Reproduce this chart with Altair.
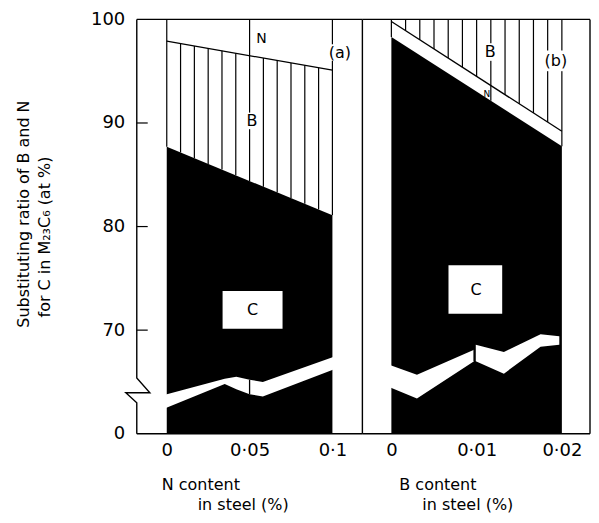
import altair as alt
import numpy as np
import pandas as pd

FONT = "DejaVu Sans"

# ---------------- panel (a): N content in steel ----------------
a_x = [0.0, 0.1]
a_c_top = [87.7, 81.1]      # C / B boundary
a_b_top = [97.9, 95.1]      # B / N boundary
a_band_l_x = [-0.005, 0.035, 0.042, 0.05]
a_band_l_hi = [63.6, 65.3, 65.5, 65.2]
a_band_l_lo = [62.2, 64.8, 64.3, 63.8]
a_band_r_x = [0.05, 0.058, 0.109]
a_band_r_hi = [65.2, 65.0, 67.9]
a_band_r_lo = [63.8, 63.6, 66.7]
a_ticks = [0, 0.05, 0.1]

# ---------------- panel (b): B content in steel ----------------
b_x = [0.0, 0.02]
b_c_top = [98.3, 87.75]     # C / N boundary
b_n_top = [99.8, 89.2]      # N / B boundary
b_band_l_x = [-0.0014, 0.003, 0.0097]
b_band_l_hi = [67.0, 65.7, 68.1]
b_band_l_lo = [64.9, 63.4, 67.0]
b_band_r_x = [0.0099, 0.0132, 0.0175, 0.0197]
b_band_r_hi = [68.6, 67.9, 69.6, 69.4]
b_band_r_lo = [67.0, 65.8, 68.4, 68.6]
b_ticks = [0, 0.01, 0.02]

y_ticks = [60, 70, 80, 90, 100]
y_title = ["Substituting ratio of B and N", "for C in M\u2082\u2083C\u2086 (at %)"]

# ---------------- layout ----------------
WA, WB, H = 226, 228, 415
A_DOM = [-0.0181, 0.1181]
B_DOM = [-0.0034, 0.0233]
Y_DOM = [60, 100]
LW = 1.4


def xs(dom):
    return alt.Scale(domain=dom, nice=False, zero=False)


YS = alt.Scale(domain=Y_DOM, nice=False, zero=False)


def x_axis(vals, fmt):
    return alt.Axis(values=vals, format=fmt, labelExpr="replace(datum.label, '.', '\u00b7')",
                    ticks=False, domain=False, grid=False, title=None, labelFont=FONT,
                    labelFontSize=18, labelPadding=8, labelColor="black")


y_axis = alt.Axis(values=y_ticks, format="d", labelExpr="datum.value == 60 ? '0' : datum.label",
                  ticks=False, domain=False, grid=False, title=None,
                  labelFont=FONT, labelFontSize=18, labelPadding=12, labelColor="black")

one = pd.DataFrame({"k": [0]})


def X(f, dom, axis=None):
    return alt.X(f, type="quantitative", scale=xs(dom), axis=axis)


def Y(f, axis=None):
    return alt.Y(f, type="quantitative", scale=YS, axis=axis)


def band(xv, hi, lo, dom):
    d = pd.DataFrame({"x": xv, "hi": hi, "lo": lo})
    return alt.Chart(d).mark_area(color="white", opacity=1).encode(
        x=X("x", dom), y=Y("hi"), y2="lo")


def step(xv, hi, lo, dom):
    d = pd.DataFrame({"x": [xv[-1]], "hi": [hi[-1]], "lo": [lo[-1]]})
    return alt.Chart(d).mark_rule(color="black", strokeWidth=1.3).encode(
        x=X("x", dom), y=Y("hi"), y2="lo")


def texts(rows, dom, size=16, **kw):
    d = pd.DataFrame(rows, columns=["x", "y", "t"])
    return alt.Chart(d).mark_text(font=FONT, fontSize=size, color="black", **kw).encode(
        x=X("x", dom), y=Y("y"), text="t:N")


def rects(rows, dom):
    d = pd.DataFrame(rows, columns=["x", "x2", "y", "y2"])
    return alt.Chart(d).mark_rect(color="white", opacity=1).encode(
        x=X("x", dom), x2="x2", y=Y("y"), y2="y2")


def frame(W):
    r = []
    r.append(alt.Chart(one).mark_rule(color="black", strokeWidth=LW).encode(
        x=alt.value(0), x2=alt.value(W), y=alt.value(0)))
    r.append(alt.Chart(one).mark_rule(color="black", strokeWidth=LW).encode(
        x=alt.value(0), x2=alt.value(W), y=alt.value(H)))
    r.append(alt.Chart(one).mark_rule(color="black", strokeWidth=LW).encode(
        x=alt.value(W), y=alt.value(0), y2=alt.value(H)))
    return r


def free_text(rows, **kw):
    out = []
    for (px, py, t) in rows:
        out.append(alt.Chart(one).mark_text(font=FONT, fontSize=16, color="black", **kw).encode(
            x=alt.value(px), y=alt.value(py), text=alt.value(t)))
    return out


# ================= panel (a) =================
dfA = pd.DataFrame({"x": a_x, "c": a_c_top, "b": a_b_top, "base": [Y_DOM[0]] * len(a_x)})
areaA = alt.Chart(dfA).mark_area(color="black", opacity=1).encode(
    x=X("x", A_DOM, x_axis(a_ticks, ".2~f")), y=Y("c", y_axis), y2="base")
lineA = alt.Chart(dfA).mark_line(color="black", strokeWidth=1.3).encode(
    x=X("x", A_DOM), y=Y("b"))

hx = np.linspace(a_x[0], a_x[-1], 13)
hlo = np.interp(hx, a_x, a_c_top)
hhi = np.interp(hx, a_x, a_b_top)
hhi[[0, 6, 12]] = 100
hatchA = alt.Chart(pd.DataFrame({"x": hx, "lo": hlo, "hi": hhi})).mark_rule(
    color="black", strokeWidth=1.2).encode(x=X("x", A_DOM), y=Y("lo"), y2="hi")

boxesA = rects([(0.0455, 0.0545, 91.0, 89.4),
                (0.0955, 0.1135, 97.6, 96.0),
                (0.0337, 0.0699, 73.78, 70.14)], A_DOM)
labelsA = texts([(0.0515, 90.2, "B"), (0.1045, 96.8, "(a)"), (0.0518, 71.96, "C")], A_DOM)
labelN_A = texts([(0.0572, 98.1, "N")], A_DOM, size=14)

zig = pd.DataFrame({
    "x": [A_DOM[0], A_DOM[0], -0.0102, -0.0247, A_DOM[0], A_DOM[0]],
    "y": [100, 65.39, 63.95, 63.95, 62.99, 60],
    "o": list(range(6))})
zigA = alt.Chart(zig).mark_line(color="black", strokeWidth=LW).encode(
    x=X("x", A_DOM), y=Y("y"), order="o:Q")
tk = pd.DataFrame({"x": [A_DOM[0]] * 3, "x2": [-0.0115] * 3, "y": [70, 80, 90]})
ticksA = alt.Chart(tk).mark_rule(color="black", strokeWidth=1.2).encode(
    x=X("x", A_DOM), x2="x2", y=Y("y"))

ytitle = [alt.Chart(one).mark_text(font=FONT, fontSize=16, color="black", angle=270).encode(
    x=alt.value(-113), y=alt.value(195), text=alt.value(y_title[0])),
    alt.Chart(one).mark_text(font=FONT, fontSize=16, color="black", angle=270).encode(
    x=alt.value(-92), y=alt.value(218), text=alt.value(y_title[1]))]
xtitleA = free_text([(25, 466, "N content"), (61, 486, "in steel (%)")], align="left")

A = alt.layer(areaA, band(a_band_l_x, a_band_l_hi, a_band_l_lo, A_DOM),
              band(a_band_r_x, a_band_r_hi, a_band_r_lo, A_DOM),
              step(a_band_l_x, a_band_l_hi, a_band_l_lo, A_DOM),
              lineA, hatchA, boxesA, labelsA, labelN_A, zigA, ticksA,
              *frame(WA), *ytitle, *xtitleA).properties(width=WA, height=H).resolve_axis(
    x="independent", y="independent")

# ================= panel (b) =================
dfB = pd.DataFrame({"x": b_x, "c": b_c_top, "n": b_n_top, "base": [Y_DOM[0]] * len(b_x)})
areaB = alt.Chart(dfB).mark_area(color="black", opacity=1).encode(
    x=X("x", B_DOM, x_axis(b_ticks, ".3~f")), y=Y("c"), y2="base")
lineB = alt.Chart(dfB).mark_line(color="black", strokeWidth=1.3).encode(
    x=X("x", B_DOM), y=Y("n"))

gx = np.linspace(b_x[0], b_x[-1], 13)
glo = np.interp(gx, b_x, b_n_top)
ghi = np.full_like(gx, 100.0)
glo[[0, 7, 12]] = np.interp(gx[[0, 7, 12]], b_x, b_c_top)
hatchB = alt.Chart(pd.DataFrame({"x": gx, "lo": glo, "hi": ghi})).mark_rule(
    color="black", strokeWidth=1.2).encode(x=X("x", B_DOM), y=Y("lo"), y2="hi")

boxesB = rects([(0.0107, 0.0125, 97.7, 96.0),
                (0.0178, 0.0213, 97.0, 95.0),
                (0.0067, 0.0130, 76.27, 71.58)], B_DOM)
labelsB = texts([(0.0116, 96.84, "B"), (0.0193, 95.98, "(b)"), (0.00994, 73.9, "C")], B_DOM)
labelN_B = texts([(0.0112, 92.8, "N")], B_DOM, size=9)
xtitleB = free_text([(37, 466, "B content"), (60, 486, "in steel (%)")], align="left")

B = alt.layer(areaB, band(b_band_l_x, b_band_l_hi, b_band_l_lo, B_DOM),
              band(b_band_r_x, b_band_r_hi, b_band_r_lo, B_DOM),
              step(b_band_l_x, b_band_l_hi, b_band_l_lo, B_DOM),
              lineB, hatchB, boxesB, labelsB, labelN_B,
              *frame(WB), *xtitleB).properties(width=WB, height=H).resolve_axis(
    x="independent", y="independent")

chart = alt.hconcat(A, B, spacing=0, bounds="flush").configure_view(stroke=None).properties(
    padding={"left": 8, "top": 2, "right": 0, "bottom": 0}, background="white")

chart.save("out.html", embed_options={"renderer": "svg", "actions": False})
